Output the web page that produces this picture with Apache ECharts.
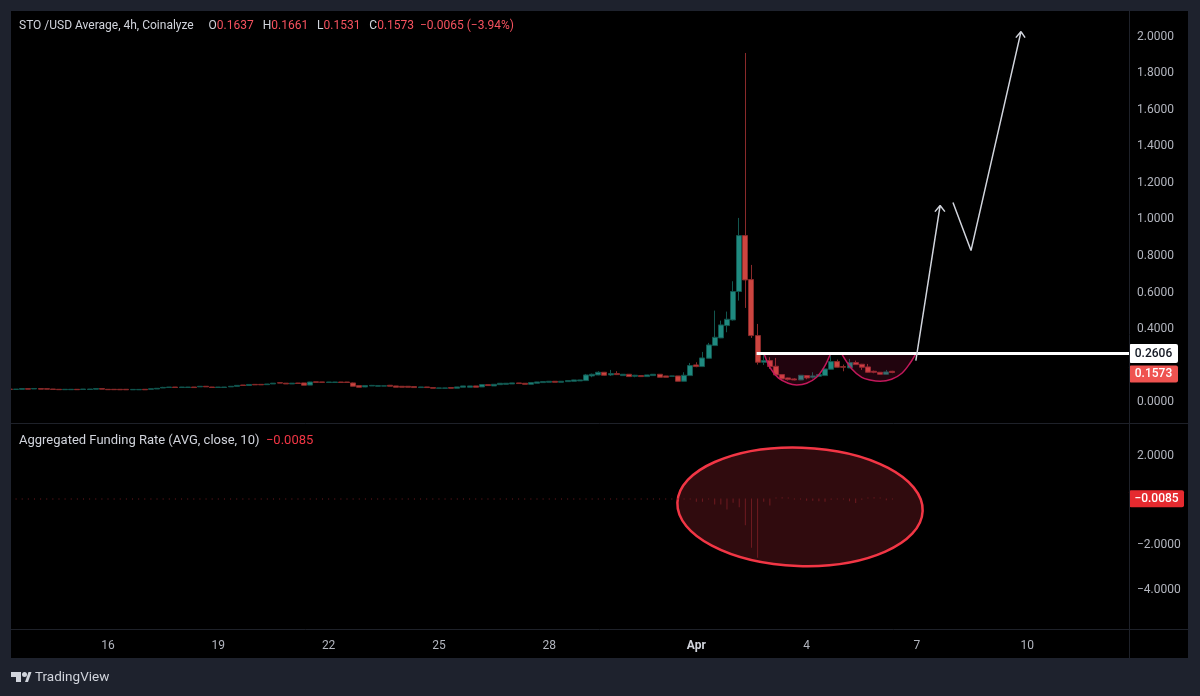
<!DOCTYPE html>
<html lang="en">
<head>
    <meta charset="UTF-8">
    <title>STO /USD Average, 4h, Coinalyze</title>
    <script src="https://cdn.jsdelivr.net/npm/echarts@6/dist/echarts.min.js"></script>
    <style>
        html, body { margin: 0; padding: 0; background: #1e222d; }
        #chart { width: 1200px; height: 696px; }
    </style>
</head>
<body>
<div id="chart"></div>
<script>
    // candles are 4h bars, first bar sits on index 80 (index / 6 = day of March)
    const firstBar = 80;
    const openP = [
        .0660,.0645,.0650,.0685,.0670,.0690,.0685,.0665,.0650,.0630,
        .0630,.0650,.0640,.0640,.0660,.0690,.0650,.0650,.0650,.0650,
        .0625,.0625,.0650,.0650,.0670,.0725,.0750,.0775,.0750,.0750,
        .0775,.0785,.0815,.0775,.0750,.0750,.0785,.0815,.0885,.0860,
        .0920,.0920,.0905,.0945,.1010,.0985,.0945,.0995,.1000,.0880,
        .1060,.1055,.1025,.1025,.1050,.1050,.0999,.0853,.0780,.0835,
        .0820,.0825,.0870,.0835,.0815,.0815,.0800,.0745,.0780,.0745,
        .0710,.0710,.0745,.0710,.0765,.0765,.0835,.0780,.0905,.0835,
        .0905,.0925,.0945,.1000,.0980,.0925,.0981,.1018,.1036,.1090,
        .1036,.1072,.1090,.1109,.1127,.1382,.1437,.1583,.1437,.1510,
        .1400,.1473,.1364,.1400,.1346,.1400,.1473,.1382,.1364,.1382,
        .1091,.1400,.1984,.1893,.2348,.3042,.3461,.4136,.4446,.6000,
        .9059,.6652,.3589,.2130,.2221,.1911,.1455,.1273,.1218,.1164,
        .1400,.1309,.1364,.1400,.1747,.2166,.1893,.1820,.2112,.2021,
        .1875,.1638,.1583,.1473,.1637
    ];
    const closeP = [
        .0645,.0660,.0690,.0660,.0695,.0660,.0660,.0645,.0630,.0650,
        .0650,.0630,.0665,.0665,.0690,.0660,.0630,.0630,.0625,.0625,
        .0645,.0645,.0625,.0680,.0705,.0755,.0775,.0750,.0775,.0775,
        .0745,.0815,.0785,.0750,.0775,.0775,.0815,.0865,.0860,.0915,
        .0895,.0895,.0940,.0985,.0990,.0945,.0985,.0970,.0875,.1050,
        .1030,.1030,.1050,.1050,.1025,.1025,.0817,.0762,.0853,.0865,
        .0850,.0840,.0820,.0765,.0765,.0765,.0745,.0780,.0745,.0710,
        .0725,.0725,.0710,.0780,.0835,.0835,.0765,.0908,.0855,.0925,
        .0980,.0980,.1000,.0965,.0925,.1018,.1054,.1072,.1090,.1036,
        .1090,.1127,.1163,.1163,.1437,.1473,.1583,.1419,.1510,.1455,
        .1473,.1346,.1419,.1346,.1437,.1473,.1309,.1309,.1382,.1091,
        .1419,.1948,.1893,.2367,.3078,.3497,.4172,.4482,.6000,.9059,
        .6634,.3589,.2130,.2221,.1893,.1437,.1218,.1182,.1164,.1419,
        .1273,.1382,.1455,.1765,.2166,.1857,.1857,.2112,.2002,.1857,
        .1583,.1583,.1473,.1601,.1573
    ];
    const lowP = [
        .0640,.0640,.0640,.0655,.0665,.0655,.0655,.0640,.0625,.0625,
        .0625,.0625,.0635,.0635,.0655,.0655,.0625,.0625,.0620,.0620,
        .0620,.0620,.0620,.0645,.0665,.0720,.0745,.0745,.0745,.0745,
        .0740,.0780,.0780,.0745,.0745,.0745,.0780,.0810,.0855,.0855,
        .0890,.0890,.0900,.0940,.0985,.0940,.0940,.0965,.0870,.0875,
        .1025,.1025,.1020,.1020,.1020,.1020,.0810,.0755,.0765,.0830,
        .0815,.0820,.0815,.0760,.0760,.0760,.0740,.0740,.0740,.0705,
        .0705,.0705,.0705,.0705,.0760,.0760,.0760,.0775,.0850,.0830,
        .0900,.0920,.0940,.0960,.0920,.0920,.0975,.1010,.1030,.1030,
        .1030,.1065,.1085,.1105,.1120,.1310,.1420,.1400,.1380,.1430,
        .1390,.1340,.1310,.1340,.1340,.1395,.1305,.1305,.1360,.1085,
        .1080,.1390,.1857,.1870,.2340,.3020,.3450,.3771,.4409,.5503,
        .5102,.3461,.2002,.1984,.1765,.1400,.1200,.1130,.1140,.1150,
        .1200,.1240,.1340,.1390,.1730,.1840,.1638,.1810,.1990,.1710,
        .1560,.1528,.1460,.1460,.1531
    ];
    const highP = [
        .0665,.0665,.0710,.0690,.0715,.0695,.0690,.0670,.0655,.0655,
        .0655,.0655,.0670,.0670,.0695,.0695,.0655,.0655,.0655,.0655,
        .0650,.0650,.0655,.0685,.0710,.0785,.0780,.0780,.0780,.0780,
        .0780,.0820,.0820,.0780,.0780,.0780,.0820,.0870,.0890,.0920,
        .0925,.0925,.0945,.0990,.1030,.0990,.0990,.1000,.1005,.1060,
        .1065,.1060,.1055,.1055,.1055,.1055,.1020,.0860,.0880,.0890,
        .0855,.0845,.0890,.0840,.0820,.0820,.0805,.0785,.0785,.0750,
        .0730,.0730,.0750,.0785,.0840,.0840,.0840,.0915,.0910,.0935,
        .0985,.0985,.1005,.1005,.0985,.1025,.1060,.1090,.1095,.1095,
        .1095,.1130,.1170,.1170,.1490,.1510,.1640,.1600,.1710,.1640,
        .1490,.1480,.1440,.1405,.1445,.1480,.1480,.1390,.1390,.1382,
        .1583,.2093,.2130,.2695,.3188,.4956,.4409,.4902,.6561,1.0026,
        1.9050,.7455,.4227,.2586,.2404,.2367,.1470,.1290,.1260,.1430,
        .1420,.1583,.1470,.1780,.2677,.2276,.2002,.2312,.2221,.2040,
        .2039,.1674,.1590,.1710,.1661
    ];
    const fundingRate = [
        -.02,-.01,-.02,-.01,-.02,-.01,-.01,-.02,-.01,-.02,
        -.01,-.02,-.01,-.01,-.02,-.01,-.02,-.01,-.01,-.02,
        -.01,-.02,-.01,-.02,-.01,-.01,-.02,-.01,-.02,-.01,
        -.01,-.02,-.01,-.02,-.01,-.01,-.02,-.01,-.02,-.01,
        -.02,-.01,-.01,-.02,-.01,-.02,-.01,-.03,-.01,-.02,
        -.01,-.02,-.01,-.01,-.02,-.01,-.02,-.01,-.01,-.02,
        -.01,-.02,-.01,-.02,-.01,-.01,-.02,-.01,-.02,-.01,
        -.01,-.02,-.01,-.02,-.01,-.01,-.02,-.01,-.02,-.01,
        -.02,-.01,-.01,-.02,-.01,-.02,-.01,-.02,-.01,-.01,
        -.02,-.01,-.02,-.01,-.02,-.01,-.01,-.02,-.01,-.02,
        -.02,-.01,-.02,-.01,-.02,-.02,-.01,-.02,-.01,-.02,
        -.03,-.03,-.15,-.15,-.04,-.27,-.27,-.49,-.19,-.39,
        -1.2,-2.21,-2.66,-.15,-.31,.03,.06,.03,-.03,-.03,
        -.1,-.1,-.12,-.15,-.06,-.03,-.03,-.12,-.2,-.06,
        .03,.06,.03,-.08,-.0085
    ];

    // drawings, [day, price]
    const resistanceLine = [[33.64, 0.2606], [43.767, 0.2606]];
    const cupLeft = [[33.84, 0.2606], [34.00, 0.1854], [34.23, 0.1275], [34.50, 0.0980], [34.73, 0.0892],
        [35.00, 0.0980], [35.27, 0.1307], [35.50, 0.1947], [35.65, 0.2606]];
    const cupRight = [[35.95, 0.2606], [36.23, 0.1767], [36.50, 0.1307], [36.72, 0.1165], [37.00, 0.1089],
        [37.31, 0.1198], [37.59, 0.1526], [37.81, 0.2073], [37.97, 0.2606]];
    const arrowOne = [[37.97, 0.2221], [38.63, 1.0701], [38.49, 1.037], [38.63, 1.0701], [38.76, 1.037]];
    const arrowTwo = [[38.98, 1.0865], [39.47, 0.8238], [40.83, 2.0219], [40.69, 1.989], [40.83, 2.0219], [40.94, 1.989]];
    // day, rate, half width (days), half height (rate)
    const fundingEllipse = [[34.82, -0.372, 3.337, 2.655]];

    const priceTicks = [0, 0.4, 0.6, 0.8, 1, 1.2, 1.4, 1.6, 1.8, 2];
    const fundingTicks = [-4, -2, 2];
    const dayTicks = [16, 19, 22, 25, 28, 32, 35, 38, 41];
    const dayLabels = ['16', '19', '22', '25', '28', 'Apr', '4', '7', '10'];

    const priceTagValues = [0.2606, 0.1573];
    const priceTagLabels = ['0.2606', '0.1573'];
    const fundingTagValues = [-0.0085];
    const fundingTagLabels = ['\u22120.0085'];

    const xMin = 13.362, xMax = 43.767;
    const font = 'Roboto';
    const textGrey = '#b2b5be';
    const upColor = '#1f8a80', downColor = '#cc4540';

    const candles = openP.map((o, i) => [(firstBar + i) / 6, o, closeP[i], lowP[i], highP[i]]);
    const fundingBars = fundingRate.map((v, i) => [(firstBar + i) / 6, v]);

    function drawLine(name, data, color, width, z) {
        return {
            name, type: 'line', data, xAxisIndex: 0, yAxisIndex: 0, showSymbol: false, symbol: 'none',
            silent: true, z, lineStyle: { color, width }
        };
    }

    function cup(name, data) {
        const s = drawLine(name, data, '#c2185b', 1.5, 6);
        s.smooth = 0.35;
        s.areaStyle = { origin: 0.2606, color: 'rgba(233,30,99,0.2)' };
        return s;
    }

    function tagSeries(name, axis, values, labels, w, colors, offsets, heights) {
        return {
            name, type: 'custom', coordinateSystem: 'cartesian2d', xAxisIndex: axis, yAxisIndex: axis,
            clip: false, silent: true, z: 20,
            data: values.map((v, i) => [xMax, v, i]),
            renderItem(params, api) {
                const i = api.value(2);
                const p = api.coord([api.value(0), api.value(1)]);
                const cy = p[1] + offsets[i];
                const h = heights[i];
                return {
                    type: 'group',
                    children: [
                        { type: 'rect', shape: { x: p[0], y: cy - h / 2, width: w, height: h, r: 2 }, style: { fill: colors[i][0] } },
                        {
                            type: 'text',
                            style: {
                                x: p[0] + w / 2, y: cy, text: labels[i], fill: colors[i][1], align: 'center',
                                verticalAlign: 'middle', font: '500 12px ' + font
                            }
                        }
                    ]
                };
            }
        };
    }

    function headerRich(size, red) {
        return {
            w: { color: '#d1d4dc', fontSize: size, fontWeight: 'normal', fontFamily: font },
            r: { color: red, fontSize: size, fontWeight: 'normal', fontFamily: font }
        };
    }

    // tick text sits slightly below its value on the TradingView scale
    function scaleLabel(values, drop) {
        return {
            customValues: values, margin: 8,
            formatter: v => '{t|' + v.toFixed(4).replace('-', '\u2212') + '}',
            rich: { t: { color: textGrey, fontSize: 12, fontFamily: font, padding: [drop, 0, 0, 0] } }
        };
    }

    const chart = echarts.init(document.getElementById('chart'));
    chart.setOption({
        animation: false,
        backgroundColor: '#1e222d',
        textStyle: { fontFamily: font },
        title: [
            {
                left: 19, top: 20, padding: 0,
                text: '{w|STO /USD Average, 4h, Coinalyze     O}{r|0.1637}{w|   H}{r|0.1661}{w|   L}{r|0.1531}{w|   C}{r|0.1573}{r|  \u22120.0065 (\u22123.94%)}',
                textStyle: { fontWeight: 'normal', rich: headerRich(12, '#f7525f') }
            },
            {
                left: 19, top: 434, padding: 0,
                text: '{w|Aggregated Funding Rate (AVG, close, 10)}{r|  \u22120.0085}',
                textStyle: { fontWeight: 'normal', rich: headerRich(13, '#f23645') }
            }
        ],
        graphic: [
            { type: 'rect', z: -10, shape: { x: 11, y: 11, width: 1177, height: 647 }, style: { fill: '#000' } },
            // left strip hides the half of the first candle that hangs past the pane
            { type: 'rect', z: 30, shape: { x: 0, y: 11, width: 11, height: 647 }, style: { fill: '#1e222d' } },
            { type: 'line', z: 30, shape: { x1: 11, y1: 423.5, x2: 1188, y2: 423.5 }, style: { stroke: '#1e2129', lineWidth: 1 } },
            { type: 'line', z: 30, shape: { x1: 11, y1: 629.5, x2: 1188, y2: 629.5 }, style: { stroke: '#1e2129', lineWidth: 1 } },
            { type: 'line', z: 30, shape: { x1: 1129.5, y1: 11, x2: 1129.5, y2: 658 }, style: { stroke: '#1e2129', lineWidth: 1 } },
            { type: 'polygon', z: 30, shape: { points: [[11, 672], [21, 672], [21, 682], [16, 682], [16, 677], [11, 677]] }, style: { fill: '#d1d4dc' } },
            { type: 'polygon', z: 30, shape: { points: [[25, 682], [28.5, 672], [31.5, 672], [28, 682]] }, style: { fill: '#d1d4dc' } },
            { type: 'circle', z: 30, shape: { cx: 24.5, cy: 674.5, r: 2.5 }, style: { fill: '#d1d4dc' } },
            {
                type: 'text', z: 30, x: 35, y: 678,
                style: { text: 'TradingView', fill: '#d1d4dc', font: '13.5px ' + font, verticalAlign: 'middle' }
            }
        ],
        grid: [
            { left: 11, top: 11, width: 1118, height: 412, containLabel: false },
            { left: 11, top: 424, width: 1118, height: 205, containLabel: false }
        ],
        xAxis: [
            { type: 'value', gridIndex: 0, min: xMin, max: xMax, show: false, splitLine: { show: false } },
            {
                type: 'value', gridIndex: 1, min: xMin, max: xMax,
                axisLine: { show: false }, axisTick: { show: false }, splitLine: { show: false },
                axisLabel: {
                    customValues: dayTicks, color: textGrey, fontSize: 12, margin: 11, showMinLabel: true, showMaxLabel: true,
                    formatter: v => {
                        const label = dayLabels[dayTicks.indexOf(v)];
                        return label === 'Apr' ? '{b|Apr}' : label;
                    },
                    rich: { b: { color: '#d1d4dc', fontWeight: 'bold', fontSize: 12, fontFamily: font } }
                }
            }
        ],
        yAxis: [
            {
                type: 'value', gridIndex: 0, position: 'right', min: -0.1193, max: 2.1346,
                axisLine: { show: false }, axisTick: { show: false }, splitLine: { show: false },
                axisLabel: scaleLabel(priceTicks, 2)
            },
            {
                type: 'value', gridIndex: 1, position: 'right', min: -5.852, max: 3.341,
                axisLine: { show: false }, axisTick: { show: false }, splitLine: { show: false },
                axisLabel: scaleLabel(fundingTicks, 4)
            }
        ],
        series: [
            {
                name: 'Funding ellipse', type: 'custom', coordinateSystem: 'cartesian2d', xAxisIndex: 1, yAxisIndex: 1,
                silent: true, clip: false, z: 1, data: fundingEllipse,
                renderItem(params, api) {
                    const c = api.coord([api.value(0), api.value(1)]);
                    const e = api.coord([api.value(0) + api.value(2), api.value(1) + api.value(3)]);
                    return {
                        type: 'ellipse',
                        shape: { cx: c[0], cy: c[1], rx: e[0] - c[0], ry: c[1] - e[1] },
                        originX: c[0], originY: c[1], rotation: -0.034,
                        style: { fill: 'rgba(242,54,69,0.2)', stroke: '#f23645', lineWidth: 2.5 }
                    };
                }
            },
            {
                name: 'Aggregated Funding Rate', type: 'bar', xAxisIndex: 1, yAxisIndex: 1, data: fundingBars,
                barWidth: 1, barMinHeight: 1, z: 2, silent: true, itemStyle: { color: '#6e1a20' }
            },
            {
                name: 'STO /USD', type: 'candlestick', xAxisIndex: 0, yAxisIndex: 0, data: candles,
                encode: { x: 0, y: [1, 2, 3, 4] }, barWidth: 5.5, z: 3, silent: true, clip: true,
                itemStyle: {
                    color: upColor, color0: downColor,
                    borderColor: '#12564f', borderColor0: '#8a2a2a', borderWidth: 1
                }
            },
            cup('Cup left', cupLeft),
            cup('Cup right', cupRight),
            drawLine('Resistance', resistanceLine, '#ffffff', 3, 8),
            drawLine('Arrow one', arrowOne, '#d1d4dc', 1.5, 8),
            drawLine('Arrow two', arrowTwo, '#d1d4dc', 1.5, 8),
            tagSeries('Price tags', 0, priceTagValues, priceTagLabels, 49,
                [['#ffffff', '#131722'], ['#ef5350', '#ffffff']], [0, 1.5], [19, 17]),
            tagSeries('Funding tag', 1, fundingTagValues, fundingTagLabels, 55,
                [['#e52a2f', '#ffffff']], [0], [17])
        ]
    });
</script>
</body>
</html>
